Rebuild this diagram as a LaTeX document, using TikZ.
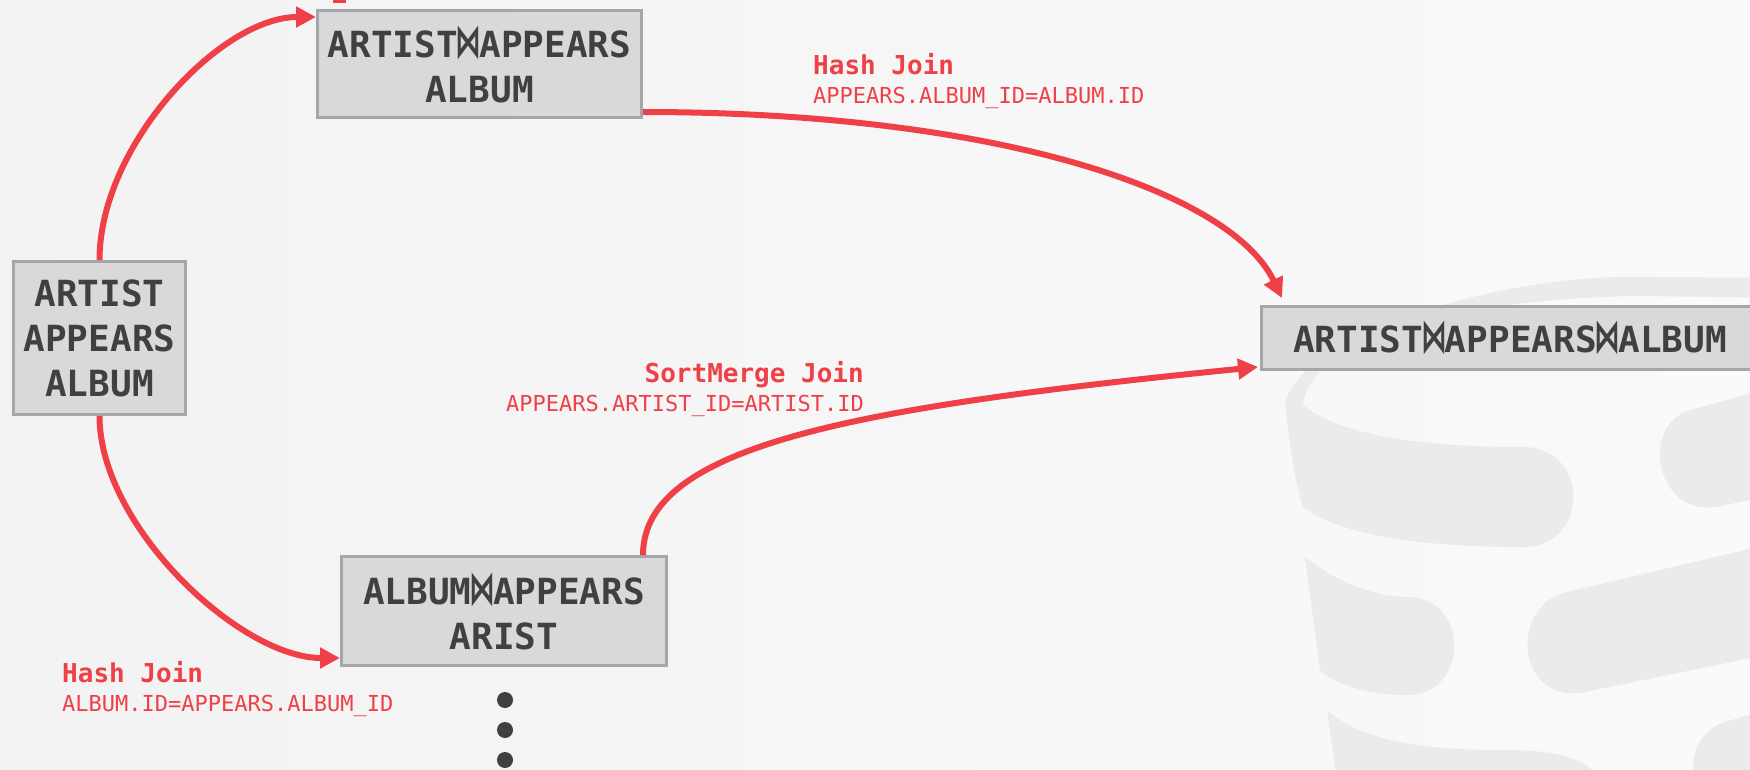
\documentclass[tikz,border=0pt]{standalone}
\usepackage{fontspec}
\usepackage{graphicx}
\setmonofont{DejaVu Sans Mono}
\newfontfamily\btfont{DejaVu Sans}
\usetikzlibrary{arrows.meta}

% bow-tie join symbol, narrowed and stretched to fill one monospaced cell
\newcommand\joinsym{\makebox[0.602em]{\scalebox{0.72}[1.3]{\btfont\bfseries ⋈}}}

\definecolor{jred}{RGB}{240,64,71}
\definecolor{boxfill}{RGB}{217,217,217}
\definecolor{boxline}{RGB}{166,166,166}
\definecolor{ink}{RGB}{64,64,64}
\definecolor{logo}{RGB}{235,235,235}

\tikzset{
  relbox/.style={draw=boxline, line width=3pt, fill=boxfill, text=ink,
    align=center, inner sep=0pt,
    font=\fontsize{36}{45}\selectfont\ttfamily\bfseries},
  joinname/.style={text=jred, inner sep=0pt,
    font=\fontsize{26}{30}\selectfont\ttfamily\bfseries},
  joinpred/.style={text=jred, inner sep=0pt,
    font=\fontsize{22}{26}\selectfont\ttfamily},
  flow/.style={draw=jred, line width=6pt,
    -{Triangle[length=20pt,width=20pt]}},
  moredot/.style={circle, fill=ink, minimum size=16pt, inner sep=0pt},
}

\begin{document}
\begin{tikzpicture}[x=1pt,y=-1pt]
\useasboundingbox (0,0) rectangle (1750,770);
\begin{scope}
\clip (0,0) rectangle (1750,770);

% background
\fill[left color=black!5, right color=black!2] (0,0) rectangle (1750,770);

% faint database logo
\begin{scope}[fill=logo]
  % rim and first band
  \fill (1285,403) .. controls (1290,450) and (1295,480) .. (1303,507)
        .. controls (1340,535) and (1420,547) .. (1523,547)
        .. controls (1590,547) and (1590,447) .. (1523,447)
        .. controls (1420,447) and (1340,435) .. (1303,405)
        .. controls (1310,340) and (1450,300) .. (1633,296)
        -- (1800,298) -- (1800,278) -- (1617,277)
        .. controls (1480,280) and (1300,340) .. (1285,403) -- cycle;
  \fill (1800,380) -- (1690,410) .. controls (1640,425) and (1655,515) .. (1715,507)
        -- (1800,490) -- cycle;
  % second band
  \fill (1305,557) .. controls (1340,585) and (1380,597) .. (1407,597)
        .. controls (1470,597) and (1470,695) .. (1407,695)
        .. controls (1370,695) and (1335,685) .. (1320,670) -- cycle;
  \fill (1800,537) -- (1567,592) .. controls (1510,605) and (1515,700) .. (1580,693)
        -- (1800,648) -- cycle;
  % third band
  \fill (1327,710) .. controls (1360,740) and (1420,750) .. (1500,750)
        .. controls (1550,750) and (1585,755) .. (1600,780) -- (1337,780) -- cycle;
  \fill (1800,700) -- (1725,722) .. controls (1695,732) and (1690,760) .. (1695,780)
        -- (1800,780) -- cycle;
\end{scope}

% small red mark at the top edge
\fill[jred] (333,0) rectangle (346,3);

% relations
\node[relbox, minimum width=172pt, minimum height=153pt] (lb) at (99.5,338) {ARTIST\\APPEARS\\ALBUM};
\node[relbox, minimum width=324pt, minimum height=107pt] (tb) at (479.5,64) {ARTIST\joinsym APPEARS\\ALBUM};
\node[relbox, minimum width=325pt, minimum height=109pt] (bb) at (504,611) {ALBUM\joinsym APPEARS\\ARIST};
\node[relbox, minimum width=497pt, minimum height=63pt] (rb) at (1510,338) {ARTIST\joinsym APPEARS\joinsym ALBUM};

% join annotations
\node[joinname, anchor=base west] (hj1) at (813,75) {Hash Join};
\node[joinpred, anchor=base west] (hp1) at (813,104) {APPEARS.ALBUM\_ID=ALBUM.ID};
\node[joinname, anchor=base east] (smj) at (864,382) {SortMerge Join};
\node[joinpred, anchor=base east] (smp) at (864,411) {APPEARS.ARTIST\_ID=ARTIST.ID};
\node[joinname, anchor=base west] (hj2) at (62,682) {Hash Join};
\node[joinpred, anchor=base west] (hp2) at (62,711) {ALBUM.ID=APPEARS.ALBUM\_ID};

% continuation dots
\node[moredot] (d1) at (505,700) {};
\node[moredot] (d2) at (505,730) {};
\node[moredot] (d3) at (505,760) {};

% plan edges
\draw[flow] (lb.north) .. controls +(0,-115) and +(-95,0) .. ([yshift=-8pt]tb.north west);
\draw[flow] (lb.south) .. controls +(0,110) and +(-100,0) .. ([yshift=9pt]bb.south west);
\draw[flow] ([yshift=7pt]tb.south east) .. controls +(350,0) and +(-52,-108) .. ([xshift=22pt,yshift=7pt]rb.north west);
\draw[flow] ([xshift=-25pt]bb.north east) .. controls +(0,-110) and +(-400,40) .. ([xshift=-2pt,yshift=4pt]rb.south west);

\end{scope}
\end{tikzpicture}
\end{document}
